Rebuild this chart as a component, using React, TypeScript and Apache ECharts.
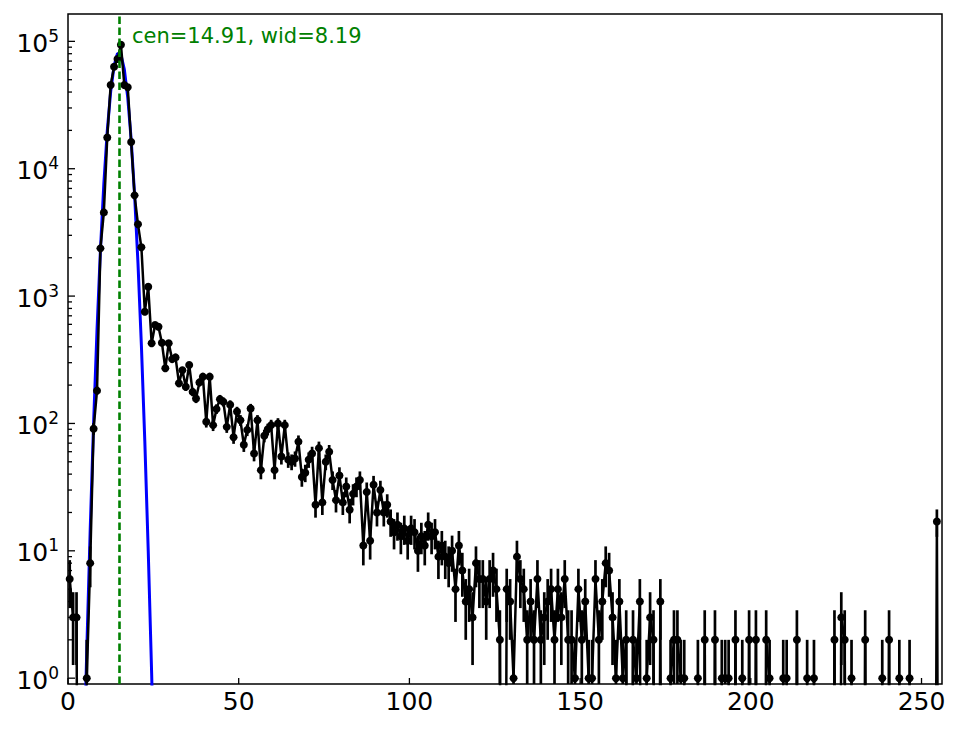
import React, { useEffect, useRef } from "react";
import * as echarts from "echarts";

// Histogram counts, one per unit bin (bin i is centred at i + 0.5)
const COUNTS: number[] = [
  6, 3, 3, 0, 0, 1, 8, 91, 181, 2370, 4540, 17600, 45400, 63200, 72600, 94200,
  45400, 43600, 16200, 6180, 3660, 2415, 754, 1184, 426, 593, 575, 430, 271, 426, 320, 330,
  207, 262, 194, 288, 177, 157, 210, 233, 103, 233, 97, 130, 155, 148, 94, 140,
  78, 124, 106, 68, 89, 131, 58, 106, 43, 80, 90, 97, 43, 100, 55, 97,
  52, 50, 53, 72, 38, 41, 52, 58, 23, 64, 24, 50, 60, 36, 25, 39,
  24, 32, 21, 28, 32, 36, 11, 29, 12, 33, 20, 30, 20, 23, 17, 14,
  16, 13, 15, 12, 15, 14, 10, 13, 11, 16, 13, 14, 9, 11, 9, 8,
  10, 5, 11, 7, 4, 5, 3, 8, 6, 6, 4, 6, 7, 5, 2, 0,
  5, 4, 1, 9, 6, 5, 2, 4, 2, 6, 2, 3, 4, 5, 2, 5,
  3, 6, 2, 2, 1, 5, 2, 4, 1, 1, 6, 2, 4, 8, 7, 3,
  1, 4, 1, 2, 0, 2, 1, 4, 0, 1, 3, 2, 0, 4, 0, 0,
  1, 2, 2, 1, 1, 0, 0, 0, 1, 0, 2, 0, 0, 2, 0, 1,
  1, 1, 0, 2, 0, 1, 0, 2, 0, 2, 0, 0, 2, 1, 0, 0,
  0, 1, 1, 0, 0, 2, 0, 0, 1, 0, 1, 0, 0, 0, 0, 0,
  2, 0, 3, 2, 0, 1, 0, 0, 0, 2, 0, 0, 0, 0, 1, 0,
  2, 0, 0, 1, 0, 0, 1, 0, 0, 0, 0, 0, 0, 0, 17, 0,
];

// Fitted curve, sampled at the bin centres
const FIT_X: number[] = [
  3.5, 4.5, 5.5, 6.5, 7.5, 8.5, 9.5, 10.5, 11.5, 12.5, 13.5, 14.5,
  15.5, 16.5, 17.5, 18.5, 19.5, 20.5, 21.5, 22.5, 23.5, 24.5, 25.5, 26.5,
];
const FIT_Y: number[] = [
  0.0102, 0.147, 1.66, 14.6, 100.5, 543, 2299, 7628, 19820, 40340, 64330, 80330,
  78590, 60220, 36150, 16990, 6262, 1807, 408, 72.3, 10.0, 1.09, 0.093, 0.006,
];

const CEN = 14.91;
const WID = 8.19;
const X_TICKS = [0, 50, 100, 150, 200, 250];
const Y_POWERS = [0, 1, 2, 3, 4, 5];
const X_RANGE = [0, 256];
const Y_RANGE = [0.9, 1.64e5];

const FONT = "DejaVu Sans";
const TINY = 1e-6;

export default function App() {
  const ref = useRef<HTMLDivElement>(null);

  useEffect(() => {
    if (!ref.current) return;
    const chart = echarts.init(ref.current, null, { renderer: "svg" });

    const xs = COUNTS.map((_, i) => i + 0.5);
    const lineData = COUNTS.map((v, i) => [xs[i], v > 0 ? v : TINY]);
    const errData: number[][] = [];
    COUNTS.forEach((v, i) => {
      if (v > 0) {
        const s = Math.sqrt(v);
        errData.push([xs[i], Math.max(v - s, TINY), v + s]);
      }
    });
    const fitData = FIT_X.map((x, i) => [x, FIT_Y[i]]);

    // y ticks (major at powers of ten, minor at 2..9 x 10^k)
    const yTicks: number[][] = [];
    Y_POWERS.forEach((p) => {
      yTicks.push([0, Math.pow(10, p), 1]);
      for (let m = 2; m <= 9; m++) {
        const v = m * Math.pow(10, p);
        if (v > Y_RANGE[0] && v < Y_RANGE[1]) yTicks.push([0, v, 0]);
      }
    });
    const xTickData = X_TICKS.map((t) => [t, Y_RANGE[0]]);

    const clampY = (y: number, cs: any) =>
      Math.max(cs.y, Math.min(cs.y + cs.height, y));

    chart.setOption({
      animation: false,
      backgroundColor: "#fff",
      textStyle: { fontFamily: FONT },
      grid: {
        left: 68,
        top: 14,
        right: 22,
        bottom: 45,
        show: true,
        borderColor: "#000",
        borderWidth: 1.5,
        backgroundColor: "transparent",
        containLabel: false,
        outerBoundsMode: "none",
      },
      xAxis: {
        type: "value",
        min: X_RANGE[0],
        max: X_RANGE[1],
        interval: 50,
        axisLine: { show: false },
        splitLine: { show: false },
        axisTick: { show: false },
        axisLabel: {
          color: "#000",
          fontSize: 25,
          fontFamily: FONT,
          margin: 5,
          formatter: (v: number) => (X_TICKS.indexOf(v) >= 0 ? String(v) : ""),
        },
      },
      yAxis: {
        type: "log",
        logBase: 10,
        min: Y_RANGE[0],
        max: Y_RANGE[1],
        axisLine: { show: false },
        splitLine: { show: false },
        axisTick: { show: false },
        minorTick: { show: false },
        axisLabel: {
          color: "#000",
          margin: 9,
          padding: [4, 0, 0, 0],
          formatter: (v: number) => {
            const p = Math.log10(v);
            const r = Math.round(p);
            if (Math.abs(p - r) < 1e-6 && Y_POWERS.indexOf(r) >= 0) {
              return "{b|10}{s|" + r + "}";
            }
            return "";
          },
          rich: {
            b: { fontSize: 25, fontFamily: FONT, color: "#000", lineHeight: 32 },
            s: { fontSize: 17, fontFamily: FONT, color: "#000", verticalAlign: "top", lineHeight: 17 },
          },
        },
      },
      graphic: [
        {
          type: "text",
          x: 132,
          y: 36,
          style: {
            text: "cen=" + CEN.toFixed(2) + ", wid=" + WID.toFixed(2),
            fill: "#008000",
            fontSize: 21,
            fontFamily: FONT,
            verticalAlign: "middle",
            align: "left",
          },
          z: 100,
        },
      ],
      series: [
        {
          type: "line",
          name: "fit",
          data: fitData,
          symbol: "none",
          clip: true,
          lineStyle: { color: "#0000ff", width: 3 },
          z: 2,
          markLine: {
            silent: true,
            symbol: ["none", "none"],
            label: { show: false },
            lineStyle: { color: "#008000", width: 2.6, type: [7.6, 3.4] },
            data: [{ xAxis: CEN }],
          },
        },
        {
          type: "custom",
          name: "errors",
          coordinateSystem: "cartesian2d",
          data: errData,
          encode: { x: 0, y: [1, 2] },
          clip: true,
          z: 3,
          renderItem: (params: any, api: any) => {
            const cs = params.coordSys;
            const x = api.value(0);
            const p1 = api.coord([x, api.value(2)]);
            const p2 = api.coord([x, api.value(1)]);
            return {
              type: "line",
              shape: { x1: p1[0], y1: clampY(p1[1], cs), x2: p1[0], y2: clampY(p2[1], cs) },
              style: { stroke: "#000", lineWidth: 2.7 },
            };
          },
        },
        {
          type: "line",
          name: "counts",
          data: lineData,
          clip: true,
          showAllSymbol: true,
          symbol: "circle",
          symbolSize: 8,
          itemStyle: { color: "#000" },
          lineStyle: { color: "#000", width: 2.5 },
          z: 4,
        },
        {
          type: "custom",
          name: "yticks",
          coordinateSystem: "cartesian2d",
          data: yTicks,
          encode: { x: 0, y: 1 },
          silent: true,
          z: 5,
          renderItem: (params: any, api: any) => {
            const cs = params.coordSys;
            const p = api.coord([X_RANGE[0], api.value(1)]);
            const len = api.value(2) ? 7 : 4;
            return {
              type: "line",
              shape: { x1: cs.x, y1: p[1], x2: cs.x + len, y2: p[1] },
              style: { stroke: "#000", lineWidth: 1.3 },
            };
          },
        },
        {
          type: "custom",
          name: "xticks",
          coordinateSystem: "cartesian2d",
          data: xTickData,
          encode: { x: 0, y: 1 },
          silent: true,
          z: 5,
          renderItem: (params: any, api: any) => {
            const cs = params.coordSys;
            const p = api.coord([api.value(0), Y_RANGE[0]]);
            const bot = cs.y + cs.height;
            return {
              type: "line",
              shape: { x1: p[0], y1: bot, x2: p[0], y2: bot - 6 },
              style: { stroke: "#000", lineWidth: 1.3 },
            };
          },
        },
      ],
    });

    return () => chart.dispose();
  }, []);

  return (
    <div
      ref={ref}
      style={{ position: "fixed", left: 0, top: 0, width: 964, height: 729, background: "#fff" }}
    />
  );
}
